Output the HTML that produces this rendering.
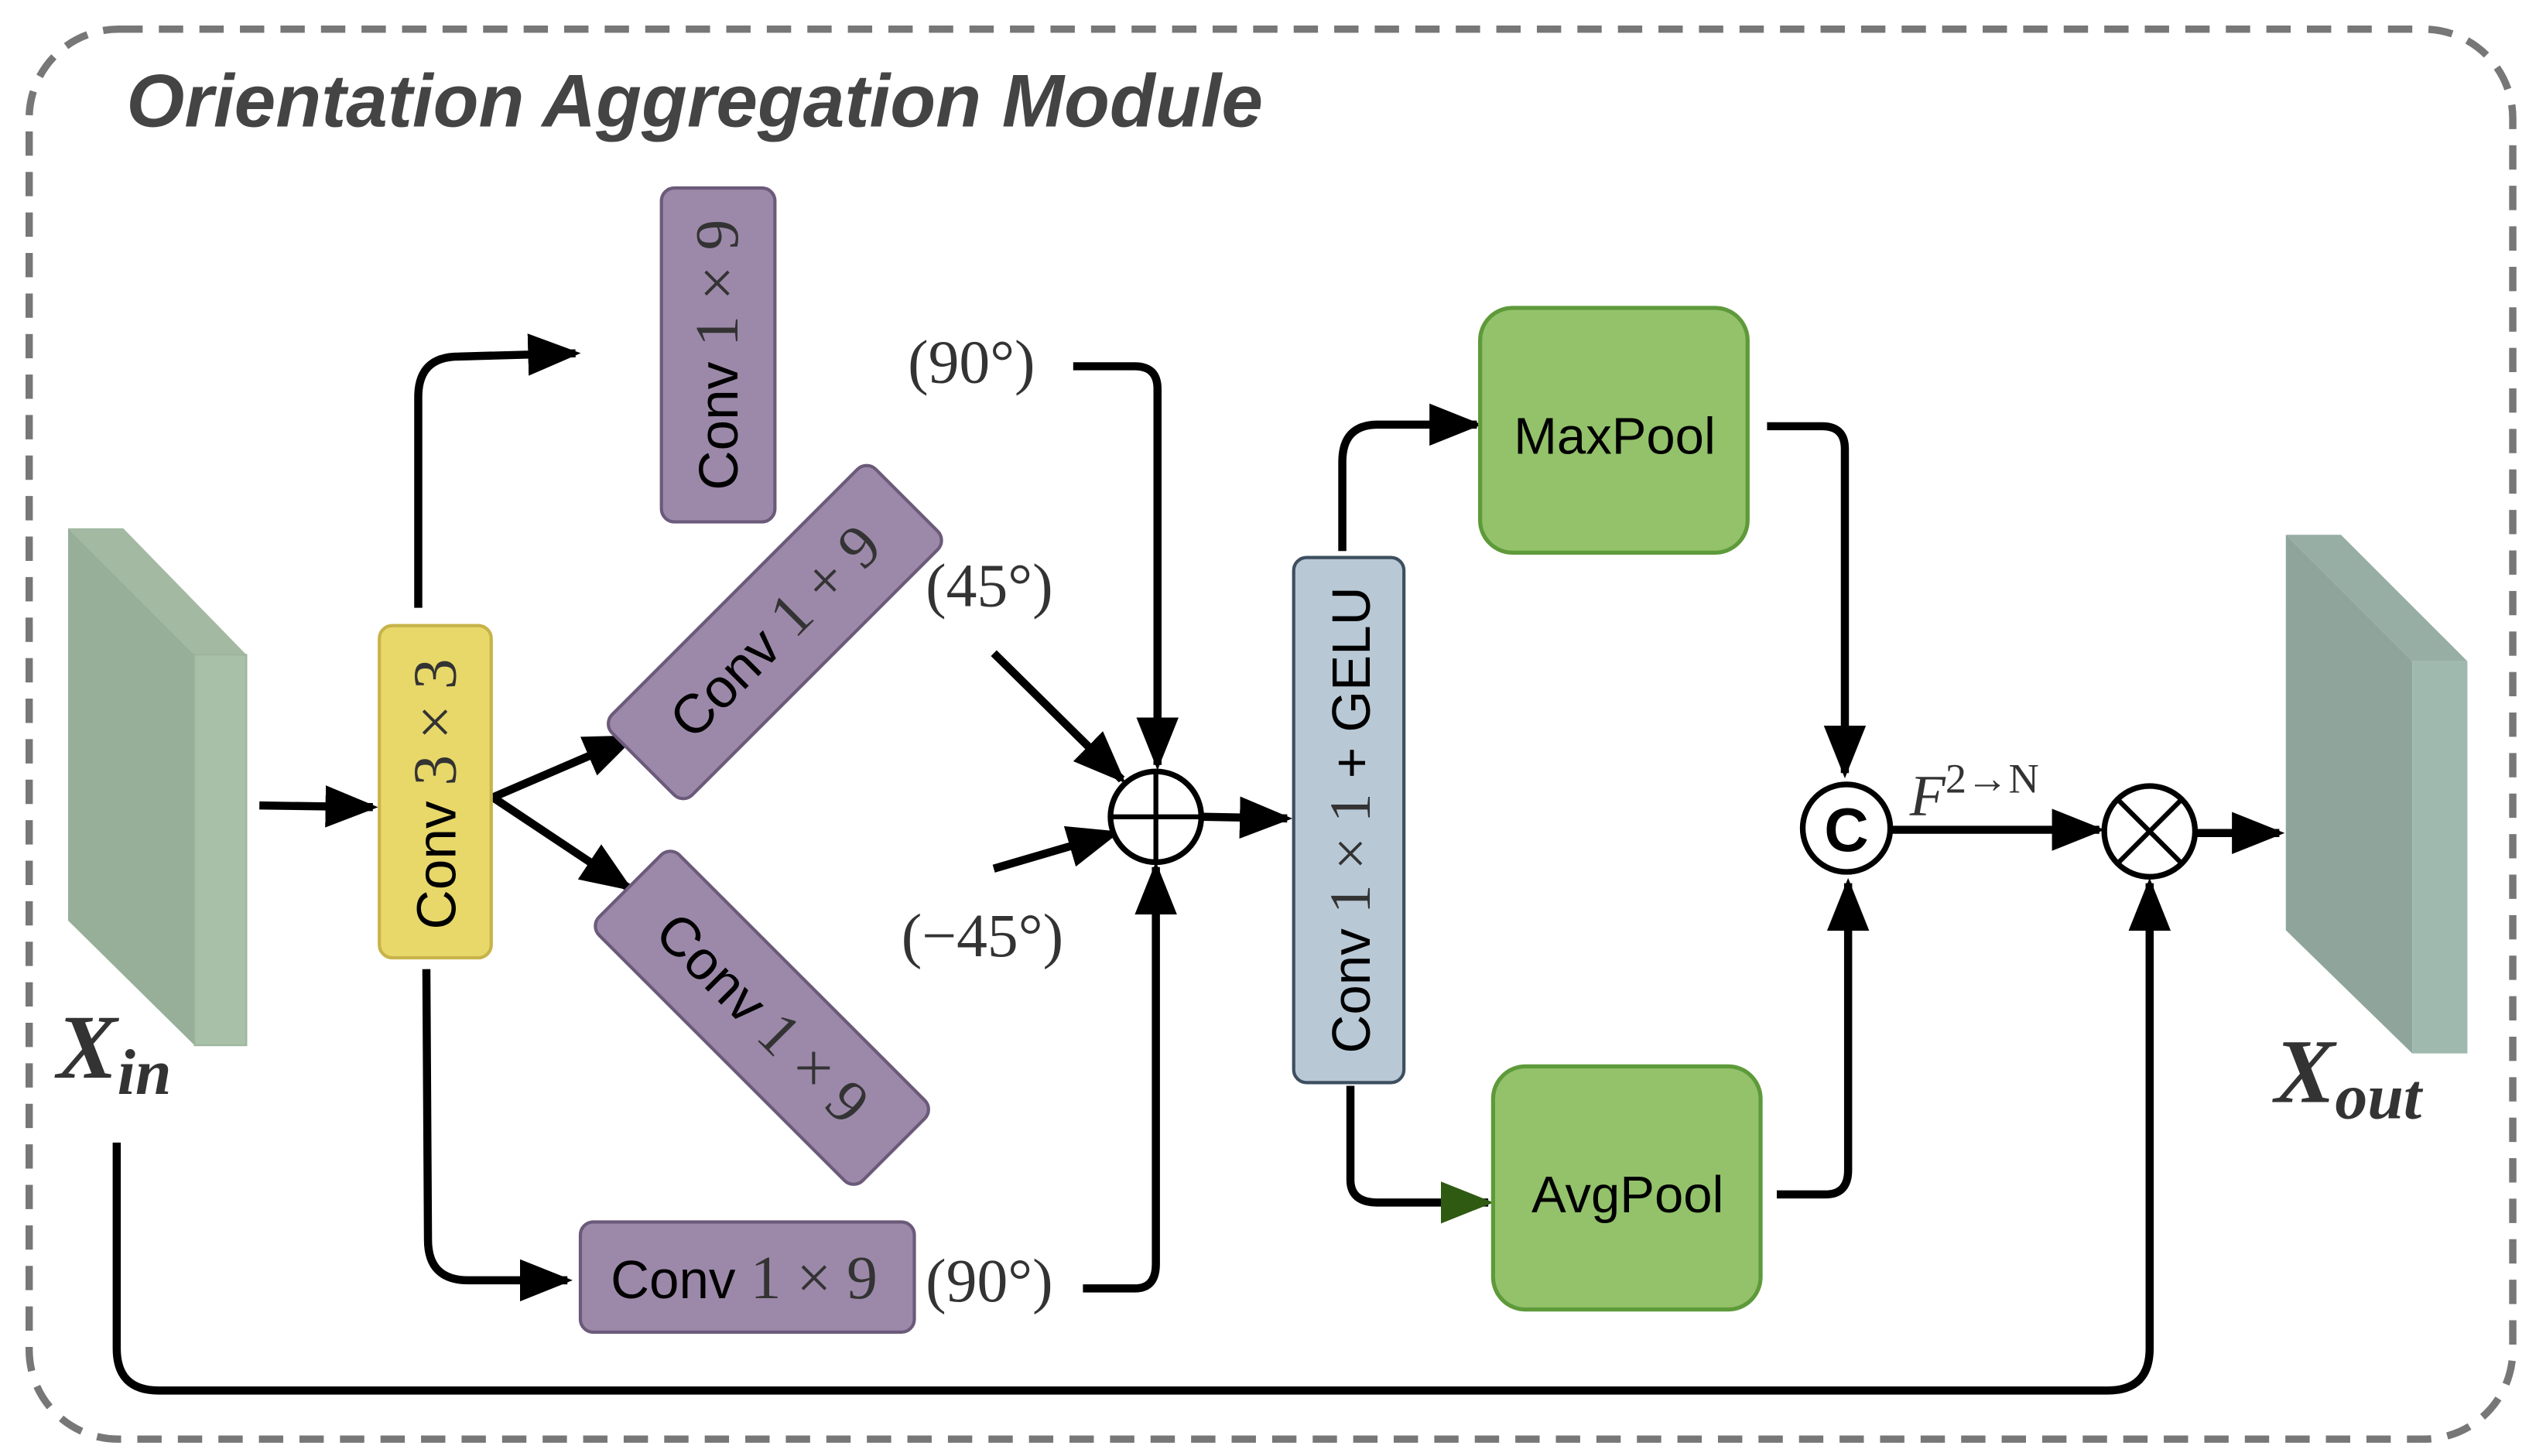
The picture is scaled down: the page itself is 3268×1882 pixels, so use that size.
<!DOCTYPE html>
<html><head><meta charset="utf-8"><style>
html,body{margin:0;padding:0;background:#fff;}
svg{display:block;}
.s{font-family:"Liberation Serif",serif;fill:#333;}
.a{font-family:"Liberation Sans",sans-serif;fill:#000;}
</style></head><body>
<svg width="3268" height="1882" viewBox="0 0 1560 898.4" preserveAspectRatio="none" xmlns="http://www.w3.org/2000/svg">
<defs>
<marker id="ar" viewBox="0 0 10 10" refX="9" refY="5" markerWidth="6.5" markerHeight="6.5" orient="auto" markerUnits="strokeWidth">
<path d="M0,1 L10,5 L0,9 Z" fill="#000"/></marker>
<marker id="ag" viewBox="0 0 10 10" refX="9" refY="5" markerWidth="6.5" markerHeight="6.5" orient="auto" markerUnits="strokeWidth">
<path d="M0,1 L10,5 L0,9 Z" fill="#2f5a12"/></marker>
</defs>
<rect x="18" y="18" width="1532" height="870" rx="55" fill="none" stroke="#777" stroke-width="4.5" stroke-dasharray="15,10"/>
<text x="78" y="78" font-family="Liberation Sans,sans-serif" font-weight="bold" font-style="italic" font-size="46" fill="#444">Orientation Aggregation Module</text>

<!-- Xin -->
<polygon points="42,326 76,326 152,404 120,404" fill="#a3b9a2"/>
<polygon points="42,326 120,404 120,645 42,568" fill="#97ae98"/>
<rect x="120" y="404" width="32" height="241" fill="#a8c0a7" stroke="#9db59c"/>
<text x="35" y="665" font-family="Liberation Serif,serif" font-weight="bold" font-style="italic" font-size="56" fill="#333">X<tspan font-size="40" dy="10">in</tspan></text>

<!-- Xout -->
<polygon points="1410,330 1444,330 1522,408 1488,408" fill="#97aea4"/>
<polygon points="1410,330 1488,408 1488,650 1410,574" fill="#8fa59b"/>
<rect x="1488" y="408" width="34" height="242" fill="#9fb9ae"/>
<text x="1403" y="680" font-family="Liberation Serif,serif" font-weight="bold" font-style="italic" font-size="56" fill="#333">X<tspan font-size="40" dy="10">out</tspan></text>

<g fill="none" stroke="#000" stroke-width="5" stroke-linejoin="round">
<path d="M160,497 L230,498" marker-end="url(#ar)"/>
<path d="M258,375 L258,245 Q258,220 283,220 L355,218" marker-end="url(#ar)"/>
<path d="M263,598 L264,765 Q264,790 289,790 L350,790" marker-end="url(#ar)"/>
<path d="M304,492 L390,455" marker-end="url(#ar)"/>
<path d="M304,492 L388,548" marker-end="url(#ar)"/>
<path d="M662,226 L700,226 Q714,226 714,240 L714,472" marker-end="url(#ar)"/>
<path d="M613,403 L692,481" marker-end="url(#ar)"/>
<path d="M613,536 L688,514" marker-end="url(#ar)"/>
<path d="M668,795 L700,795 Q713,795 713,780 L713,535" marker-end="url(#ar)"/>
<path d="M742,504 L794,505" marker-end="url(#ar)"/>
<path d="M828,340 L828,285 Q828,262 850,262 L911,262" marker-end="url(#ar)"/>
<path d="M833,670 L833,728 Q833,742 850,742 L918,742" marker-end="url(#ag)"/>
<path d="M1090,263 L1124,263 Q1138,263 1138,277 L1138,477" marker-end="url(#ar)"/>
<path d="M1096,737 L1126,737 Q1140,737 1140,722 L1140,545" marker-end="url(#ar)"/>
<path d="M1167,512 L1295,512" marker-end="url(#ar)"/>
<path d="M1355,514 L1406,514" marker-end="url(#ar)"/>
<path d="M72,705 L72,832 Q72,858 98,858 L1300,858 Q1326,858 1326,832 L1326,545" marker-end="url(#ar)"/>
</g>

<!-- Conv3x3 -->
<rect x="234" y="386" width="69" height="205" rx="8" fill="#e8d86a" stroke="#c8b34a" stroke-width="2"/>
<g transform="translate(281,490) rotate(-90)"><text text-anchor="middle" font-size="34"><tspan font-family="Liberation Sans,sans-serif" fill="#000">Conv </tspan><tspan font-family="Liberation Serif,serif" fill="#333" font-size="38">3 × 3</tspan></text></g>

<!-- Conv top -->
<rect x="408" y="116" width="70" height="206" rx="8" fill="#9c89a9" stroke="#6b5a7a" stroke-width="2"/>
<g transform="translate(455,219) rotate(-90)"><text text-anchor="middle" font-size="34"><tspan font-family="Liberation Sans,sans-serif" fill="#000">Conv </tspan><tspan font-family="Liberation Serif,serif" fill="#333" font-size="38">1 × 9</tspan></text></g>

<!-- Conv 45 -->
<g transform="translate(478,390) rotate(-45)">
<rect x="-115" y="-35" width="230" height="70" rx="8" fill="#9c89a9" stroke="#6b5a7a" stroke-width="2"/>
<text y="12" text-anchor="middle" font-size="34"><tspan font-family="Liberation Sans,sans-serif" fill="#000">Conv </tspan><tspan font-family="Liberation Serif,serif" fill="#333" font-size="38">1 + 9</tspan></text></g>

<!-- Conv -45 -->
<g transform="translate(470,628) rotate(45)">
<rect x="-115" y="-35" width="230" height="70" rx="8" fill="#9c89a9" stroke="#6b5a7a" stroke-width="2"/>
<text y="12" text-anchor="middle" font-size="34"><tspan font-family="Liberation Sans,sans-serif" fill="#000">Conv </tspan><tspan font-family="Liberation Serif,serif" fill="#333" font-size="38">1 × 9</tspan></text></g>

<!-- Conv bottom -->
<rect x="358" y="754" width="206" height="68" rx="8" fill="#9c89a9" stroke="#6b5a7a" stroke-width="2"/>
<text x="459" y="801" text-anchor="middle" font-size="33"><tspan font-family="Liberation Sans,sans-serif" fill="#000">Conv </tspan><tspan font-family="Liberation Serif,serif" fill="#333" font-size="38">1 × 9</tspan></text>

<text class="s" x="560" y="236" font-size="38">(90°)</text>
<text class="s" x="571" y="374" font-size="38">(45°)</text>
<text class="s" x="556" y="590" font-size="38">(−45°)</text>
<text class="s" x="571" y="803" font-size="38">(90°)</text>

<!-- plus circle -->
<circle cx="713" cy="504" r="28" fill="#fff" stroke="#000" stroke-width="3.5"/>
<path d="M685,504 H741 M713,476 V532" stroke="#000" stroke-width="3"/>

<!-- Conv1x1 GELU -->
<rect x="798" y="344" width="68" height="324" rx="8" fill="#b8c8d5" stroke="#3d4f5f" stroke-width="2"/>
<g transform="translate(845,506) rotate(-90)"><text text-anchor="middle" font-size="33"><tspan font-family="Liberation Sans,sans-serif" fill="#000">Conv </tspan><tspan font-family="Liberation Serif,serif" fill="#333" font-size="36">1 × 1</tspan><tspan font-family="Liberation Sans,sans-serif" fill="#000"> + GELU</tspan></text></g>

<rect x="913" y="190" width="165" height="151" rx="20" fill="#93c26a" stroke="#5e9a3a" stroke-width="2.5"/>
<text class="a" x="996" y="280" text-anchor="middle" font-size="32">MaxPool</text>
<rect x="921" y="658" width="165" height="150" rx="20" fill="#93c26a" stroke="#5e9a3a" stroke-width="2.5"/>
<text class="a" x="1004" y="748" text-anchor="middle" font-size="32">AvgPool</text>

<circle cx="1139" cy="511" r="27" fill="#fff" stroke="#000" stroke-width="3.5"/>
<text x="1139" y="525" text-anchor="middle" font-family="Liberation Sans,sans-serif" font-weight="bold" font-size="38">C</text>
<text class="s" x="1178" y="503" font-size="36" font-style="italic">F<tspan font-style="normal" font-size="26" dy="-14">2→N</tspan></text>

<circle cx="1326" cy="513" r="28" fill="#fff" stroke="#000" stroke-width="3.5"/>
<path d="M1306,493 L1346,533 M1346,493 L1306,533" stroke="#000" stroke-width="3"/>
</svg>
</body></html>
